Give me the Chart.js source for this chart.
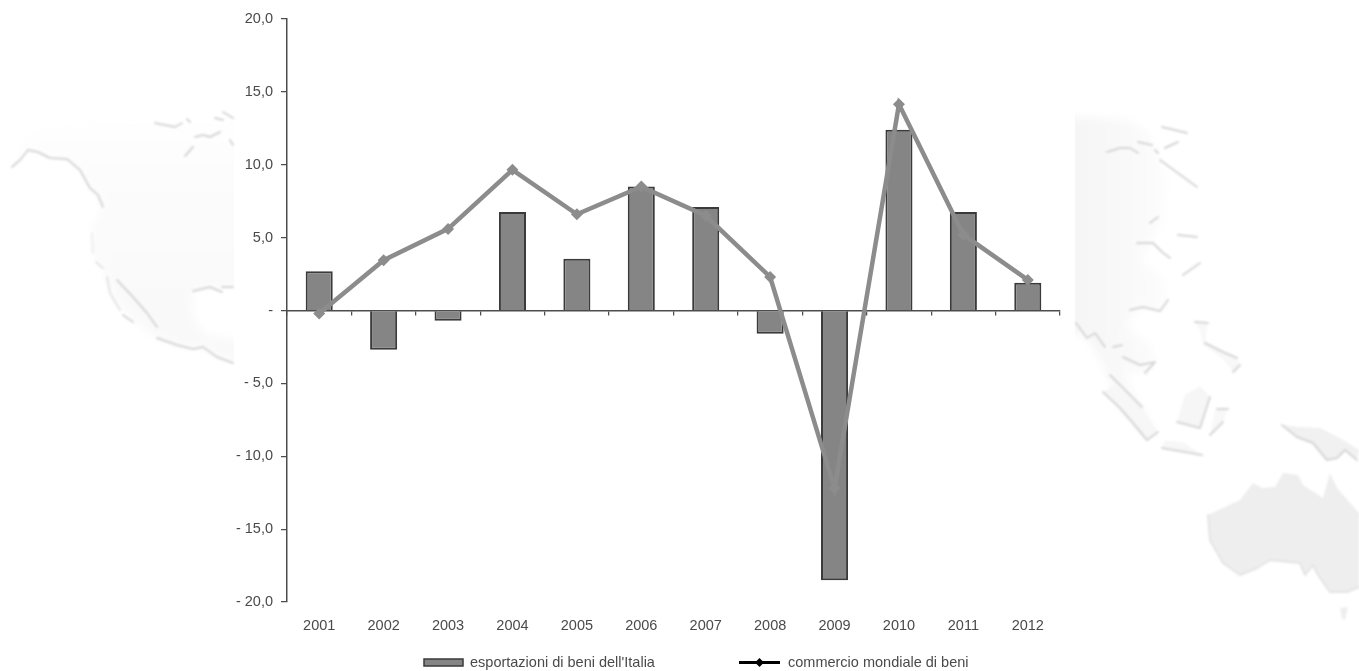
<!DOCTYPE html>
<html lang="it">
<head>
<meta charset="utf-8">
<title>Esportazioni di beni dell'Italia e commercio mondiale</title>
<script src="https://cdn.jsdelivr.net/npm/chart.js@4"></script>
<style>
  html, body { margin: 0; padding: 0; background: #fff; overflow: hidden; }
  #stage { position: relative; width: 1359px; height: 671px; }
  #map { position: absolute; left: 0; top: 0; }
  #chart { position: absolute; left: 0; top: 0; }
  .coast { fill: none; stroke: #d6d6d6; stroke-width: 2; stroke-linecap: round; stroke-linejoin: round; }
  .coast-soft { fill: none; stroke: #e4e4e4; stroke-width: 2; stroke-linecap: round; stroke-linejoin: round; }
  .coast-faint { fill: none; stroke: #eeeeee; stroke-width: 2; stroke-linecap: round; stroke-linejoin: round; }
</style>
</head>
<body>
<div id="stage">
  <!-- Decorative world map behind the plot -->
  <svg id="map" width="1359" height="671" viewBox="0 0 1359 671">
    <defs>
      <filter id="soft" x="-5%" y="-5%" width="110%" height="110%"><feGaussianBlur stdDeviation="1"/></filter>
      <filter id="softer" x="-10%" y="-10%" width="120%" height="120%"><feGaussianBlur stdDeviation="4"/></filter>
      <clipPath id="westSide"><rect x="0" y="0" width="234" height="671"/></clipPath>
      <clipPath id="eastSide"><rect x="1075" y="0" width="284" height="671"/></clipPath>
      <linearGradient id="landWest" x1="0" y1="105" x2="0" y2="300" gradientUnits="userSpaceOnUse">
        <stop offset="0" stop-color="#ffffff"/><stop offset="0.4" stop-color="#fcfcfc"/><stop offset="1" stop-color="#f9f9f9"/>
      </linearGradient>
      <linearGradient id="landEast" x1="1075" y1="0" x2="1175" y2="0" gradientUnits="userSpaceOnUse">
        <stop offset="0" stop-color="#f6f6f6"/><stop offset="0.7" stop-color="#fafafa"/><stop offset="1" stop-color="#ffffff"/>
      </linearGradient>
    </defs>
    <g clip-path="url(#westSide)">
      <g filter="url(#softer)">
        <path fill="url(#landWest)" d="M12 165L28 150L50 158L67 159L80 170L90 188L103 207L93 225L92 253L103 268L115 300L135 322L157 338L177 345L193 349L203 347L217 357L250 363L250 340L205 335L192 315L193 291L210 287L250 287L250 115L200 105L100 112L30 130Z"/>
      </g>
    </g>
    <g clip-path="url(#eastSide)">
      <g filter="url(#softer)">
        <path fill="url(#landEast)" d="M1050 115L1130 120L1150 135L1170 180L1165 220L1150 243L1140 260L1165 280L1170 300L1160 311L1143 307L1130 315L1128 330L1150 345L1155 362L1145 373L1125 370L1130 385L1142 407L1158 432L1147 440L1120 408L1105 370L1087 338L1050 323Z"/>
      </g>
    </g>
    <g filter="url(#soft)">
      <path fill="#f7f7f7" d="M1103 392L1120 408L1133 423L1147 440L1158 432L1140 405L1115 385Z"/>
      <path fill="#f6f6f6" d="M1177 422L1200 428L1210 397L1200 386L1185 395Z"/>
      <path fill="#f8f8f8" d="M1210 435L1223 422L1228 408L1215 410Z"/>
      <path fill="#f7f7f7" d="M1162 448L1202 455L1185 443L1165 440Z"/>
      <path fill="#f8f8f8" d="M1195 322L1208 323L1205 343L1223 352L1237 358L1240 365L1233 372L1222 358L1203 345L1200 330Z"/>
      <path fill="#f1f1f1" d="M1282 425L1297 437L1313 443L1327 460L1337 458L1345 450L1357 460L1359 450L1340 438L1320 428L1300 427Z"/>
      <path fill="#eeeeee" d="M1208 515L1210 540L1223 563L1240 575L1257 568L1270 560L1300 563L1305 575L1313 565L1318 575L1330 592L1347 592L1359 587L1359 513L1337 488L1330 473L1323 498L1303 485L1298 475L1283 473L1275 487L1262 488L1253 483L1240 500Z"/>
      <path fill="#eeeeee" d="M1340 608L1348 607L1345 620L1342 619Z"/>
      <path class="coast" d="M12 167L20 160L28 150L38 152L50 158L67 159L80 170L90 188L98 195L103 207"/>
      <path class="coast-faint" d="M92 233L93 253"/>
      <path class="coast-soft" d="M96 262L103 268M107 277L110 293L120 310"/>
      <path class="coast" d="M117 280L133 297L147 313L157 327M123 315L133 322M157 338L177 345L193 349L203 347L217 357L233 363"/>
      <path class="coast" d="M193 291L210 287L222 292M222 287L233 287M155 123L175 127L182 123M187 119L190 122M195 137L203 135L210 137L220 132M185 156L193 147M223 112L233 118M215 118L223 120M230 140L233 145"/>
      <path class="coast" d="M1107 152L1120 148L1130 148L1138 153M1162 127L1187 133M1138 142L1152 145M1165 148L1178 142M1155 150L1158 153M1160 160L1197 187"/>
      <path class="coast" d="M1150 223L1158 217M1137 243L1153 243L1162 252L1170 258M1178 235L1197 237M1183 275L1200 263M1130 310L1143 307L1160 311L1168 300"/>
      <path class="coast" d="M1076 323L1087 338L1095 333L1105 347M1113 347L1122 345M1123 357L1140 365L1155 362L1145 373"/>
      <path class="coast" d="M1195 322L1208 323M1205 343L1223 352L1237 358M1233 372L1240 365M1110 375L1142 407M1103 392L1120 408L1133 423L1147 440L1158 432"/>
      <path class="coast" d="M1177 422L1200 428L1210 397M1217 409L1228 409M1210 435L1223 422M1162 448L1202 455"/>
      <path class="coast" d="M1282 425L1297 437L1313 443L1327 460L1337 458L1345 450L1357 460"/>
      <path class="coast-soft" d="M1208 515L1210 540L1223 563L1240 575L1257 568L1270 560L1300 563L1305 575L1313 565L1318 575L1330 592L1347 592L1359 587"/>
    </g>
  </svg>
  <canvas id="chart" width="1359" height="671"></canvas>
</div>
<script>
// Annual change, per cent
const years = ['2001','2002','2003','2004','2005','2006','2007','2008','2009','2010','2011','2012'];
const italianExports = [2.7, -2.7, -0.7, 6.75, 3.55, 8.5, 7.1, -1.6, -18.5, 12.4, 6.75, 1.9];
const worldTrade = [-0.2, 3.45, 5.6, 9.65, 6.6, 8.5, 6.5, 2.3, -12.2, 14.15, 5.2, 2.1];
const exportsLabel = "esportazioni di beni dell'Italia";
const tradeLabel = 'commercio mondiale di beni';

const textColor = '#4a4a4a';
const axisColor = '#4d4d4d';
const fontFamily = '"Liberation Sans", Arial, sans-serif';
const fontSize = 14.5;

// Italian number format with a spaced minus and a dash for zero
function formatTick(value) {
  if (value === 0) return '-';
  const body = Math.abs(value).toFixed(1).replace('.', ',');
  return value < 0 ? '- ' + body : body;
}

// Legend row below the year labels
const bottomLegend = {
  id: 'bottomLegend',
  afterDraw(chart) {
    const ctx = chart.ctx;
    const y = 662.5;
    ctx.save();
    ctx.font = fontSize + 'px ' + fontFamily;
    ctx.textBaseline = 'middle';
    ctx.textAlign = 'left';

    const bars = chart.data.datasets[1];
    ctx.fillStyle = bars.backgroundColor;
    ctx.strokeStyle = bars.borderColor;
    ctx.lineWidth = 1.5;
    ctx.fillRect(424, y - 3.5, 39, 7);
    ctx.strokeRect(424, y - 3.5, 39, 7);
    ctx.fillStyle = textColor;
    ctx.fillText(bars.label, 470, y);

    const line = chart.data.datasets[0];
    ctx.strokeStyle = '#000';
    ctx.fillStyle = '#000';
    ctx.lineWidth = 3;
    ctx.beginPath();
    ctx.moveTo(739, y);
    ctx.lineTo(780, y);
    ctx.stroke();
    ctx.beginPath();
    ctx.moveTo(759.5, y - 4.5);
    ctx.lineTo(764, y);
    ctx.lineTo(759.5, y + 4.5);
    ctx.lineTo(755, y);
    ctx.closePath();
    ctx.fill();
    ctx.fillStyle = textColor;
    ctx.fillText(line.label, 788, y);
    ctx.restore();
  }
};

new Chart(document.getElementById('chart'), {
  type: 'bar',
  plugins: [bottomLegend],
  data: {
    labels: years,
    datasets: [
      {
        type: 'line',
        label: tradeLabel,
        data: worldTrade,
        order: 0,
        xAxisID: 'x',
        borderColor: '#8c8c8c',
        backgroundColor: '#8c8c8c',
        borderWidth: 4.5,
        pointStyle: 'rectRot',
        pointRadius: 6,
        pointBorderWidth: 0,
        tension: 0,
        clip: false
      },
      {
        type: 'bar',
        label: exportsLabel,
        data: italianExports,
        order: 1,
        xAxisID: 'x',
        backgroundColor: '#858585',
        borderColor: '#3a3a3a',
        borderWidth: 2,
        barPercentage: 0.42,
        categoryPercentage: 1
      }
    ]
  },
  options: {
    responsive: false,
    animation: false,
    layout: { padding: { left: 0, right: 299, top: 19, bottom: 0 } },
    plugins: { legend: { display: false }, tooltip: { enabled: false }, title: { display: false } },
    scales: {
      // Year labels stay along the bottom of the plot
      x: {
        type: 'category',
        position: 'bottom',
        border: { display: false },
        grid: { display: false },
        afterFit(scale) { scale.height = 69; },
        ticks: {
          color: textColor,
          padding: 7,
          maxRotation: 0,
          autoSkip: false,
          font: { family: fontFamily, size: fontSize }
        }
      },
      // Horizontal axis line and tick marks sit on the zero level
      xZero: {
        type: 'category',
        axis: 'x',
        position: { y: 0 },
        offset: true,
        border: { display: true, color: axisColor, width: 1.5 },
        grid: { display: true, offset: true, drawOnChartArea: false, drawTicks: true, tickLength: 4, color: axisColor, lineWidth: 1.25 },
        ticks: { display: false, autoSkip: false }
      },
      y: {
        type: 'linear',
        min: -20,
        max: 20,
        afterFit(scale) { scale.width = 287; },
        border: { display: true, color: axisColor, width: 1.5 },
        grid: { display: true, drawOnChartArea: false, drawTicks: true, tickLength: 6, color: axisColor, lineWidth: 1.25 },
        ticks: {
          stepSize: 5,
          color: textColor,
          padding: 8,
          font: { family: fontFamily, size: fontSize },
          callback: formatTick
        }
      }
    }
  }
});
</script>
</body>
</html>
